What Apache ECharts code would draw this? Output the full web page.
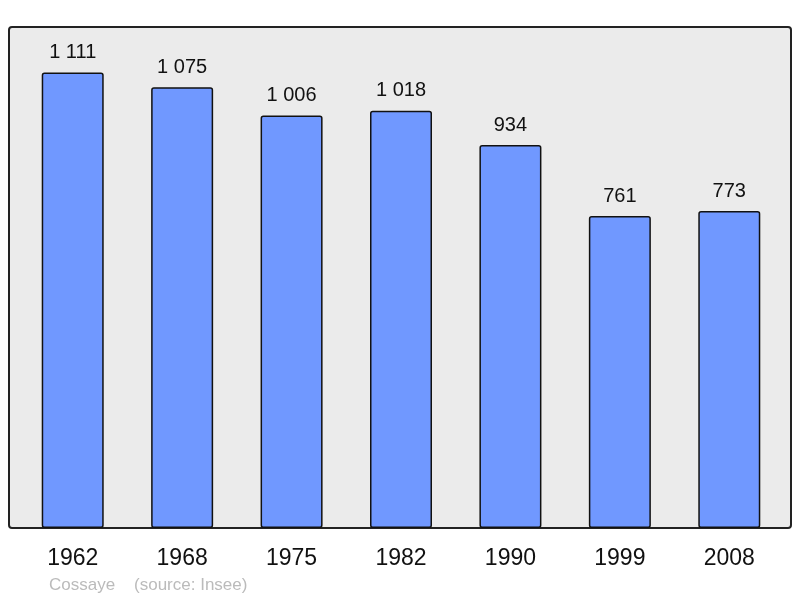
<!DOCTYPE html>
<html>
<head>
<meta charset="utf-8">
<script src="https://cdn.jsdelivr.net/npm/echarts@6/dist/echarts.min.js"></script>
<style>
  html, body { margin: 0; padding: 0; background: #fff; }
  #chart { width: 800px; height: 598px; }
</style>
</head>
<body>
<div id="chart"></div>
<script>
const years = ['1962', '1968', '1975', '1982', '1990', '1999', '2008']
const population = [1111, 1075, 1006, 1018, 934, 761, 773]
const footer = 'Cossaye    (source: Insee)'

function spaced (n) {
  return String(n).replace(/\B(?=(\d{3})+(?!\d))/g, ' ')
}

const chart = echarts.init(document.getElementById('chart'))
chart.setOption({
  animation: false,
  graphic: [{
    type: 'rect',
    z: -10,
    shape: { x: 9, y: 27, width: 782, height: 501, r: 3 },
    style: { fill: '#ebebeb', stroke: '#222', lineWidth: 2 }
  }, {
    type: 'text',
    left: 49,
    top: 577,
    style: {
      text: footer,
      fill: '#bbbbbb',
      font: '17px "Liberation Sans", Arial, sans-serif'
    }
  }],
  grid: { left: 18, right: 16, top: 27, bottom: 70 },
  xAxis: {
    type: 'category',
    data: years,
    axisLine: { show: false },
    axisTick: { show: false },
    axisLabel: {
      margin: 19,
      color: '#111',
      fontSize: 23,
      fontFamily: '"Liberation Sans", Arial, sans-serif'
    }
  },
  yAxis: {
    type: 'value',
    min: 0,
    max: 1222,
    show: false,
    splitLine: { show: false }
  },
  series: [{
    type: 'bar',
    data: population,
    barWidth: 62,
    itemStyle: {
      color: '#7098ff',
      borderColor: '#111',
      borderWidth: 1.5,
      borderRadius: 2
    },
    label: {
      show: true,
      position: 'top',
      distance: 10,
      color: '#111',
      fontSize: 20,
      fontFamily: '"Liberation Sans", Arial, sans-serif',
      formatter: p => spaced(p.value)
    }
  }]
})
</script>
</body>
</html>
